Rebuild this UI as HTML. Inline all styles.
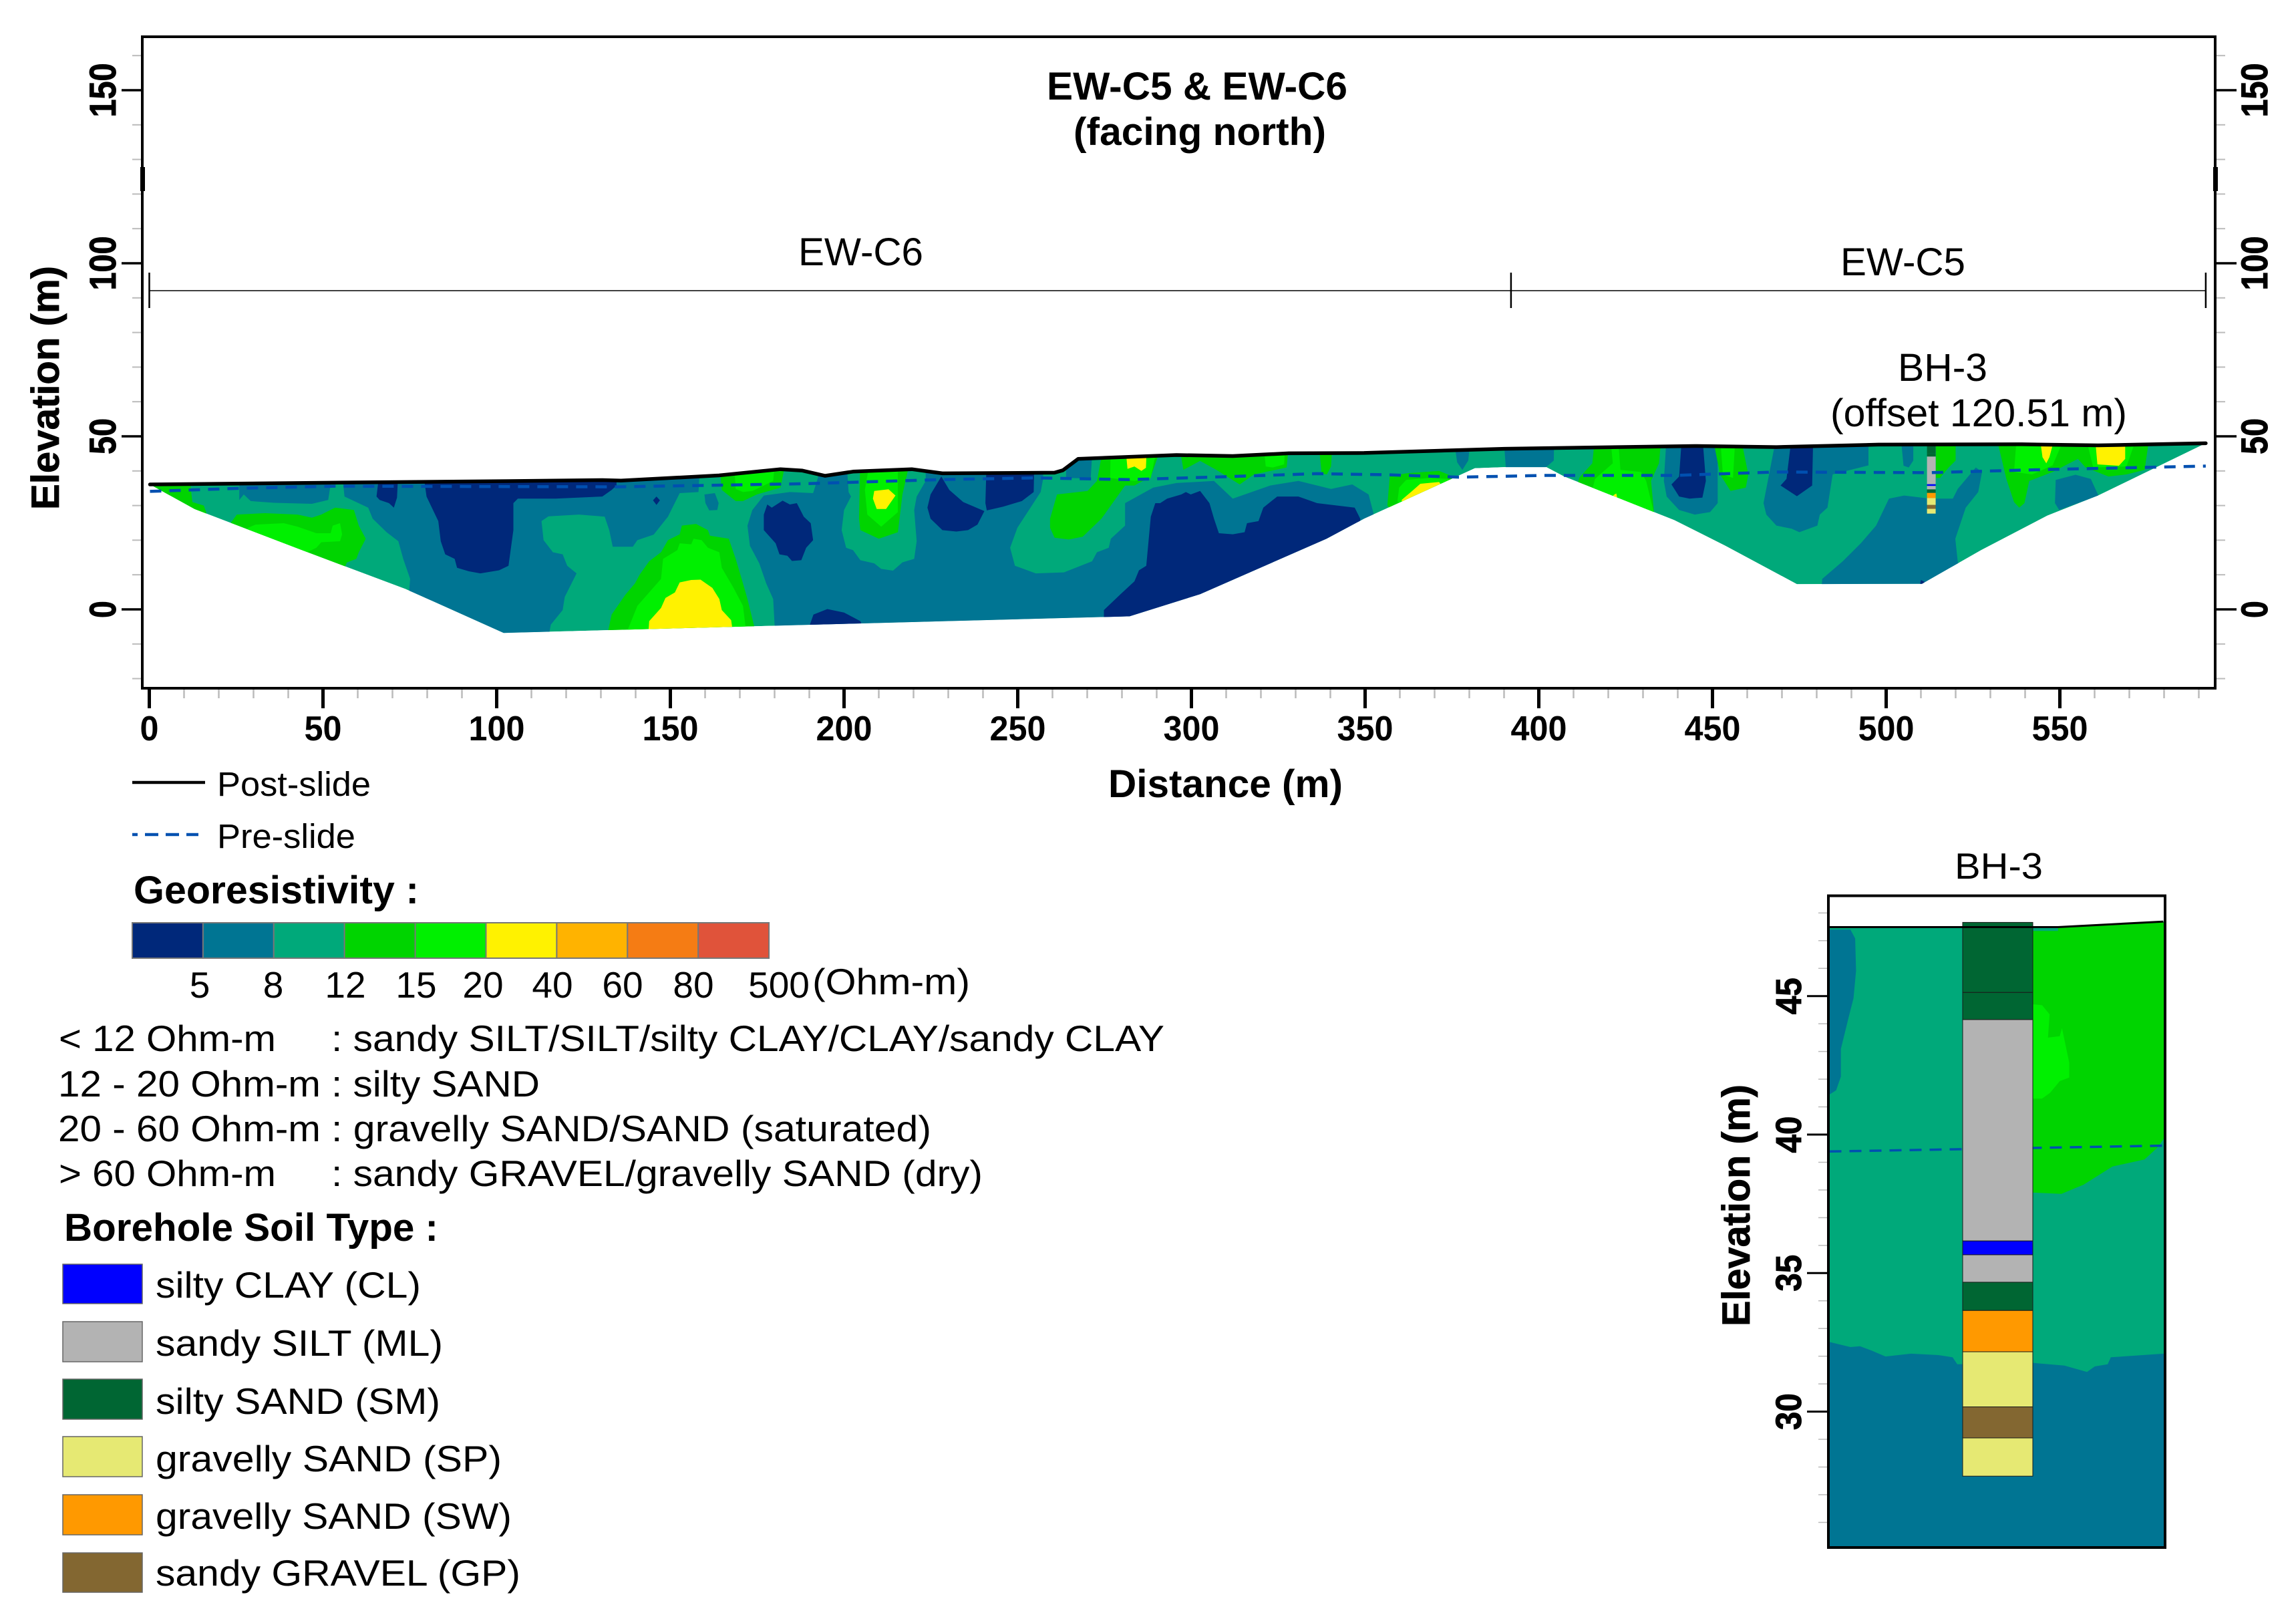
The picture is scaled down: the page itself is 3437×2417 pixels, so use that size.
<!DOCTYPE html>
<html lang="en">
<head>
<meta charset="utf-8">
<title>EW-C5 and EW-C6 georesistivity section</title>
<style>
html,body{margin:0;padding:0;background:#fff}
svg{display:block}
text{font-family:"Liberation Sans",Arial,sans-serif;fill:#000}
.b{font-weight:bold}
</style>
</head>
<body>
<svg id="figure" xmlns="http://www.w3.org/2000/svg" width="3437" height="2417" viewBox="0 0 3437 2417">
<defs>
<clipPath id="section-clip"><path id="section-clip-path"/></clipPath>
<clipPath id="panel-clip"><path id="panel-clip-path"/></clipPath>
</defs>
<rect width="3437" height="2417" fill="#fff"/>

<g id="main-section" clip-path="url(#section-clip)"></g>
<g id="main-overlay"></g>
<g id="main-axes"></g>

<text class="b" x="1792" y="149" font-size="58" text-anchor="middle" textLength="450" lengthAdjust="spacingAndGlyphs">EW-C5 &amp; EW-C6</text>
<text class="b" x="1796" y="217" font-size="58" text-anchor="middle" textLength="378" lengthAdjust="spacingAndGlyphs">(facing north)</text>
<text x="1195" y="397" font-size="58" textLength="187" lengthAdjust="spacingAndGlyphs">EW-C6</text>
<text x="2755" y="412" font-size="58" textLength="187" lengthAdjust="spacingAndGlyphs">EW-C5</text>
<text x="2841" y="570" font-size="58" textLength="134" lengthAdjust="spacingAndGlyphs">BH-3</text>
<text x="2740" y="638" font-size="58" textLength="444" lengthAdjust="spacingAndGlyphs">(offset 120.51 m)</text>
<text class="b" x="1659" y="1193" font-size="58" textLength="351" lengthAdjust="spacingAndGlyphs">Distance (m)</text>
<text class="b" transform="translate(88,763) rotate(-90)" font-size="58" stroke="#000" stroke-width="0.8" textLength="365" lengthAdjust="spacingAndGlyphs">Elevation (m)</text>

<g>
<line x1="198" y1="1171" x2="307" y2="1171" stroke="#000" stroke-width="4.5"/>
<text x="325" y="1191" font-size="51" textLength="230" lengthAdjust="spacingAndGlyphs">Post-slide</text>
<line x1="198" y1="1249" x2="297" y2="1249" stroke="#0050b0" stroke-width="4.5" stroke-dasharray="8 11 20 11 20 11 20"/>
<text x="325" y="1269" font-size="51" textLength="207" lengthAdjust="spacingAndGlyphs">Pre-slide</text>
</g>

<text class="b" x="200" y="1352" font-size="58" textLength="427" lengthAdjust="spacingAndGlyphs">Georesistivity :</text>
<g id="colorbar"></g>
<g font-size="55" text-anchor="middle">
<text x="299" y="1493">5</text>
<text x="409" y="1493">8</text>
<text x="517" y="1493">12</text>
<text x="623" y="1493">15</text>
<text x="723" y="1493">20</text>
<text x="827" y="1493">40</text>
<text x="932" y="1493">60</text>
<text x="1038" y="1493">80</text>
<text x="1166" y="1493">500</text>
</g>
<text x="1216" y="1488" font-size="55" textLength="236" lengthAdjust="spacingAndGlyphs">(Ohm-m)</text>

<g font-size="55">
<text x="88" y="1573" textLength="325" lengthAdjust="spacingAndGlyphs">&lt; 12 Ohm-m</text>
<text x="496" y="1573" textLength="1247" lengthAdjust="spacingAndGlyphs">: sandy SILT/SILT/silty CLAY/CLAY/sandy CLAY</text>
<text x="87" y="1641" textLength="393" lengthAdjust="spacingAndGlyphs">12 - 20 Ohm-m</text>
<text x="496" y="1641" textLength="312" lengthAdjust="spacingAndGlyphs">: silty SAND</text>
<text x="87" y="1708" textLength="393" lengthAdjust="spacingAndGlyphs">20 - 60 Ohm-m</text>
<text x="496" y="1708" textLength="898" lengthAdjust="spacingAndGlyphs">: gravelly SAND/SAND (saturated)</text>
<text x="88" y="1775" textLength="325" lengthAdjust="spacingAndGlyphs">&gt; 60 Ohm-m</text>
<text x="496" y="1775" textLength="975" lengthAdjust="spacingAndGlyphs">: sandy GRAVEL/gravelly SAND (dry)</text>
</g>

<text class="b" x="96" y="1857" font-size="58" textLength="560" lengthAdjust="spacingAndGlyphs">Borehole Soil Type :</text>
<g font-size="55">
<rect x="94" y="1892" width="119" height="59" fill="#0000ff" stroke="#666" stroke-width="1.5"/>
<text x="233" y="1942" textLength="397" lengthAdjust="spacingAndGlyphs">silty CLAY (CL)</text>
<rect x="94" y="1978" width="119" height="60" fill="#b3b3b3" stroke="#666" stroke-width="1.5"/>
<text x="233" y="2029" textLength="430" lengthAdjust="spacingAndGlyphs">sandy SILT (ML)</text>
<rect x="94" y="2064" width="119" height="60" fill="#006633" stroke="#666" stroke-width="1.5"/>
<text x="233" y="2116" textLength="426" lengthAdjust="spacingAndGlyphs">silty SAND (SM)</text>
<rect x="94" y="2150" width="119" height="60" fill="#e6e973" stroke="#666" stroke-width="1.5"/>
<text x="233" y="2202" textLength="518" lengthAdjust="spacingAndGlyphs">gravelly SAND (SP)</text>
<rect x="94" y="2237" width="119" height="60" fill="#ff9900" stroke="#666" stroke-width="1.5"/>
<text x="233" y="2288" textLength="533" lengthAdjust="spacingAndGlyphs">gravelly SAND (SW)</text>
<rect x="94" y="2324" width="119" height="59" fill="#836731" stroke="#666" stroke-width="1.5"/>
<text x="233" y="2373" textLength="546" lengthAdjust="spacingAndGlyphs">sandy GRAVEL (GP)</text>
</g>

<text x="2926" y="1315" font-size="55" textLength="132" lengthAdjust="spacingAndGlyphs">BH-3</text>
<text class="b" transform="translate(2619,1985) rotate(-90)" font-size="58" stroke="#000" stroke-width="0.8" textLength="362" lengthAdjust="spacingAndGlyphs">Elevation (m)</text>
<g id="panel-section" clip-path="url(#panel-clip)"></g>
<g id="panel-overlay"></g>

<script>
// ---------- axis data ----------
const xMajorTicks = [0,50,100,150,200,250,300,350,400,450,500,550];
const xMinorTicks = [10,20,30,40,60,70,80,90,110,120,130,140,160,170,180,190,210,220,230,240,260,270,280,290,310,320,330,340,360,370,380,390,410,420,430,440,460,470,480,490,510,520,530,540,560,570,580,590];
const yMajorTicks = [150,100,50,0];
const yMinorTicks = [160,140,130,120,110,90,80,70,60,40,30,20,10,-10,-20];
const sectionMarks = [0,392,592];
const panelMajorTicks = [45,40,35,30];
const panelMinorTicks = [48,47,46,44,43,42,41,39,38,37,36,34,33,32,31,29,28,27,26];

// ---------- surface lines [distance m, elevation m] ----------
const postSlide = [[0.2,36.1],[63,36.7],[117,37.2],[130.4,37.35],[135.8,37.2],[164,38.7],[181.7,40.5],[188,40.1],[194.5,38.6],[202.6,39.8],[219.5,40.5],[228.3,39.3],[260.6,39.5],[263,40.2],[267.4,43.5],[295.7,44.6],[311.9,44.3],[328,45.1],[349.7,45.2],[390.2,46.4],[444.9,47.2],[468.4,46.9],[497.8,47.6],[539,47.7],[561,47.4],[592,48]];
const preSlide = [[0.2,34.1],[26.5,35],[53.5,35.6],[134.5,35.4],[188,36.3],[228,37.5],[255,38],[282,37.5],[309,38.3],[336,39.2],[356,38.9],[377,38.2],[402,38.7],[439,38.7],[468.4,39.7],[512.5,39.5],[542,40.3],[592,41.4]];
const sectionBase = [[13,29],[44,17.1],[73.7,5.9],[81.8,2.3],[102,-6.8],[207,-4],[282.2,-2],[302.5,4.4],[338.9,20.4],[349.7,26.2],[381.6,40.8],[390,41.1],[402.2,41.1],[407.3,38.4],[439,25.8],[453.7,18.4],[474.3,7.3],[510.3,7.4],[527.3,17.1],[546.4,27.1],[561,32.9]];

// ---------- borehole strata: top, bottom elevations and soil codes ----------
const strataTop = [47.66,45.13,44.15,36.16,35.66,34.67,33.65,32.16,30.17,29.05];
const strataBottom = [45.13,44.15,36.16,35.66,34.67,33.65,32.16,30.17,29.05,27.67];
const strataSoil = ["SM","SM","ML","CL","ML","SM","SW","SP","GP","SP"];
const boreholeRange = [511.75,514.25];

// ---------- resistivity zones [distance m, elevation m] ----------
const teal1 = [[25.9,40],[25.9,31.6],[27.2,33.2],[29.2,31.3],[36,30.8],[46.8,30.5],[51.5,31.6],[52.8,40]];
const teal2 = [[54.9,45],[56.2,32.6],[63,29.4],[64.3,26.2],[68.3,22.3],[71.7,19.7],[73.1,14.6],[75.1,8.8],[73.7,-8],[114.9,-8],[115.6,-4.4],[119,-0.2],[119.6,3.6],[123,10.4],[120.3,12.6],[119,15.9],[116.2,16.5],[113.5,20],[112.9,25.5],[114.9,26.9],[123.7,27.4],[131.1,26.8],[132.4,22.9],[133.4,18.1],[139.2,18.1],[140.5,20],[145.2,21.6],[149.3,26.8],[152.7,33.6],[158.1,33.9],[158.7,45]];
const teal3 = [[159.8,33.2],[162.8,33.6],[163.9,30.7],[163.5,28.7],[161.2,28.6],[160.1,30.7]];
const teal4 = [[180,-8],[180,-4.4],[179.6,3],[177.6,7.5],[175.6,13.3],[172.9,18.4],[172.2,24.2],[173.6,28.7],[176.9,32.9],[184.4,33.9],[191.1,33.6],[192.5,38.1],[192.5,45],[257.3,45],[257.3,37.7],[256.6,33.9],[249.9,23.6],[247.8,17.8],[249.2,12.6],[255.2,10.4],[263.3,10.7],[271.4,13.9],[272.8,16.5],[276.2,17.8],[276.8,20.4],[280.9,24.2],[280.9,30.7],[289,35.2],[295.7,36.5],[306.5,37.1],[311.9,32],[322.7,35.8],[330.8,37.1],[340.2,34.8],[346.3,36.1],[351,33.2],[352.4,27.8],[352.4,-8]];
const teal5 = [[264,46],[263.9,38],[271,37.8],[271.5,46]];
const teal6 = [[376,46],[376.5,42.5],[378,40.3],[379.7,43],[380,46]];
const teal7 = [[390,48],[390.5,41],[402,41],[404.3,43],[404.4,48]];
const teal8 = [[436.8,50],[436,37.1],[436.8,32.6],[440.4,28.7],[444.9,27.4],[449.3,28.1],[451.5,30.7],[451.5,50]];
const teal9 = [[468.4,50],[464.7,30.7],[465.5,27.4],[468.4,24.2],[472.8,23.3],[475,22.3],[480.2,24.2],[480.9,27.4],[483.1,29.4],[484.6,39],[494.9,41.6],[494.9,50]];
const teal10 = [[504.2,50],[505,41.5],[506.5,41],[507.8,43],[507.8,50]];
const teal11 = [[480.9,0],[481.6,8.8],[487.5,13.9],[492.7,19.1],[497.1,24.2],[500.8,32],[505.2,32.9],[512.6,32],[519.2,32],[520.6,34.8],[525.8,41],[527.6,39.7],[526.5,33.9],[522.9,29.4],[521.4,24.9],[519.9,20.4],[520.6,13.9],[525,0]];
const teal12 = [[548.8,37.4],[554.5,38.9],[558.9,37.7],[561.1,32.9],[549.8,28.7],[548.6,30.7]];
const teal13 = [[569,32],[569.2,35],[570.4,37],[571.8,36],[572,32]];
const emerald1 = [[200.6,45],[201.3,33.9],[202,32.6],[200,28.7],[199.3,22.9],[200.6,17.8],[202.6,17.1],[204.7,14.2],[208.7,13.3],[210.7,11.7],[214.1,11.2],[216.8,13.6],[220.2,14.6],[220.9,19.7],[220.2,28.7],[220.9,32.6],[223.5,37.1],[223.5,45]];
const green1 = [[-1,37],[11.7,37],[12.4,31],[15.7,30],[16.4,28],[16,20],[-1,20]];
const green2 = [[23.8,25.5],[25.2,27.4],[33.3,27.8],[42.7,27.4],[46.8,26.5],[49.5,27.4],[53.5,29.4],[58.9,28.7],[60.3,24.2],[62.3,20.4],[60.3,16.5],[59.6,14.6],[56.9,13.6],[56.2,12],[40,5],[20,20]];
const green3 = [[131.7,-8],[133.1,-1.5],[137.1,4.3],[139.8,7.5],[141.2,10.1],[143.9,13.9],[147.3,16.5],[149.3,20],[152.7,21.7],[153.3,24.2],[157.4,24.7],[160.8,22.9],[161.4,21.3],[166.8,20.4],[168.8,14.6],[170.9,7.5],[172.2,3],[174.9,-8]];
const green4 = [[163.9,45],[164.8,34.5],[168.8,31.3],[170.9,31.3],[174.9,33.2],[181.7,35.2],[183.7,45]];
const green5 = [[204.7,45],[204.3,26.2],[204.7,22.9],[210,20.4],[215.5,22.3],[216.8,33.2],[219.5,45]];
const green6 = [[259.3,26.2],[261.3,33.2],[270.1,34.2],[272.8,37.1],[274.8,48],[291.7,48],[288.3,38.4],[283.6,35.8],[280.9,35.8],[274.1,26.2],[268.7,21],[264.7,20.2],[260.6,20.7],[259.3,23.6]];
const green7 = [[296.4,48],[297.7,40.3],[302.5,42.9],[307.2,40.3],[313.9,36.1],[318,39],[327.4,41],[328.1,48]];
const green8 = [[336.6,48],[337.5,39.3],[339,39],[340.2,41.3],[340.6,48]];
const green9 = [[356.4,30],[357.1,38.4],[361.8,39.3],[371.3,40],[375.3,38.4],[380,30],[365,20]];
const green10 = [[416.2,50],[415.4,42.2],[411.7,38.1],[410,32],[433.1,25],[433.1,28.7],[432.3,37.1],[434.6,42.2],[435.3,50]];
const green11 = [[450,50],[452.2,39],[455.2,34.2],[459.6,35.2],[460.3,39],[458.1,50]];
const green12 = [[514.3,50],[514.3,38],[515.5,38],[518,41],[520,43],[520,50]];
const green13 = [[531.7,50],[534.6,37.7],[536.8,31],[538.3,29.4],[539.8,30.7],[541.2,37.1],[547.9,39.7],[555.2,43.5],[557.4,41],[564,38.4],[569.2,39],[574.4,40.3],[575.8,50]];
const bright2 = [[28.5,23.6],[30.6,24.5],[38.7,24.9],[42.7,23.9],[48.1,22],[52.2,22],[52.8,24.2],[54.9,24.9],[55.5,21.7],[54.9,19.7],[49.5,19.4],[48.1,17.8],[45.4,16.5],[40,10],[25,20]];
const bright3 = [[136.9,-8],[140.5,1],[143.9,4.9],[147.3,8.8],[147.9,14.6],[152,17.1],[152.7,19.1],[156,18.8],[156.7,20.4],[159,20],[160.8,17.8],[164.1,16.5],[164.8,12],[168.2,6.2],[170.9,1],[172,-8]];
const bright4 = [[168.2,45],[168.8,34.8],[170.9,33.9],[173.6,34.2],[176.9,35.8],[179.6,37.1],[180.3,45]];
const bright5 = [[207.8,45],[206,34.5],[206.7,27.4],[210.7,23.9],[215.5,28.1],[215.5,45]];
const bright6 = [[276.8,48],[276.6,38],[283.6,37.1],[288.3,38],[290.3,48]];
const bright7 = [[320.7,48],[321.4,41.3],[323.4,41],[326.7,41.9],[327,48]];
const bright9 = [[359.3,31.3],[359.8,35.2],[361.8,37.4],[368.6,38],[374,37.7],[380,30],[365,20]];
const bright10 = [[420.6,50],[421.3,42.2],[416.2,37.7],[415,33],[433.1,28.1],[430.9,37.1],[429.4,39.7],[423.5,40.3],[422.8,50]];
const bright11 = [[452.2,50],[453,39],[455.9,38],[456.6,50]];
const bright13a = [[537.6,50],[536.8,39.7],[542,39],[547.9,41.6],[551.5,50]];
const bright13b = [[557.4,50],[559.6,41],[569.2,41.3],[572.2,50]];
const yellow3 = [[143.6,-8],[143.9,-3.4],[147.3,.4],[148.6,3.3],[151.3,4.9],[152.7,7.8],[156,8.5],[158.7,8.6],[162.1,6.2],[164.1,3],[164.8,-.2],[167.5,-3.1],[168.2,-8]];
const yellow5 = [[208.7,34.2],[212.8,34.7],[214.8,32.9],[212.1,29],[209.4,29],[208.3,32]];
const yellow6 = [[280.9,48],[281.6,40.6],[283.6,41.3],[285.6,40],[286.9,40.9],[287.2,48]];
const yellow9 = [[360.5,31.6],[363.2,33.9],[365.9,36.3],[371.3,36.8],[372,35.8],[372,28],[362,26]];
const yellow10 = [[421,30],[421.5,33],[422.3,33.5],[423,30]];
const yellow13a = [[544.2,50],[545,44],[546.1,42.2],[547,44],[548.6,50]];
const yellow13b = [[560.1,50],[560.8,41.9],[567,41.5],[568.8,43.5],[568.8,50]];
const navy1 = [[66.3,40],[71.7,40],[71.3,32.3],[70.4,29.4],[69,30.7],[66.3,31.6],[65.4,32.6]];
const navy2 = [[78.5,42],[79.8,32.6],[83.2,25.5],[83.9,19.7],[85.2,15.9],[87.9,14.6],[88.6,12],[92,11],[95.3,10.4],[100.7,11.3],[103.4,12.6],[104.8,22.9],[104.8,30.7],[106.1,32],[116.9,32],[130.4,32.6],[133.1,34.5],[134.5,35.8],[134.5,42]];
const navy3 = [[145,31.5],[146,32.6],[147,31.5],[146,30.2]];
const navy4 = [[177.9,30.3],[179.2,29.4],[182.3,31.4],[184.4,30.3],[186.4,30.7],[188.4,26.8],[190.4,24.9],[191.1,20],[189.1,17.8],[187.7,14.2],[185,14],[183.7,15.5],[181.4,15.9],[180.3,19.1],[176.9,22.9],[176.9,27.4]];
const navy5 = [[188.9,-8],[191.2,-1.5],[195.2,.1],[200,-.9],[204.7,-3.4],[206.7,-8]];
const navy6 = [[228,38.4],[230.3,34.5],[234.3,31],[240.4,28.4],[238.4,24.5],[235.7,22.9],[232.3,22.5],[228.3,22.9],[224.9,26.2],[224,29.4],[224.9,33.2]];
const navy7 = [[241.1,45],[254.8,45],[254.6,33.9],[251.2,31.3],[245.8,29.7],[241.1,28.6],[240.7,30.7]];
const navy8 = [[274.8,-8],[274.8,-.2],[279.5,4.3],[283.6,8.1],[284.9,11.3],[287,12.6],[288.3,26.8],[289.6,30.7],[291,30.7],[293,32],[297.1,33.2],[298.4,33.9],[299.8,33.2],[302.5,34.2],[305.2,30.7],[306.5,26.2],[307.9,22],[311.9,21.7],[315.3,22.3],[316,24.9],[319.3,25.5],[320.7,29.4],[324.7,32.6],[330.8,32.6],[336.2,30.7],[347,29.4],[348.6,26.2],[348.6,-8]];
const navy9 = [[441.2,50],[440.4,38.4],[438.2,36.1],[440.4,32.6],[443.4,32],[447.1,32.3],[448.1,37.1],[447.1,50]];
const navy10 = [[472.8,50],[471.3,37.7],[469.6,35.8],[474.3,32.7],[478.7,35.8],[479,50]];
const navy11 = [[509.5,6],[510,8.5],[511,8],[511,6]];

// ---------- close-up panel zones ----------
const panelPost = [[507,47.49],[515.15,47.49],[518.9,47.69]];
const panelPre = [[507,39.39],[518.9,39.6]];
const panelTeal1 = [[506.9,47.4],[507.75,47.4],[507.92,47.08],[507.95,45.91],[507.86,44.92],[507.69,44.25],[507.41,43.09],[507.41,42.09],[507.24,41.6],[506.9,41.38]];
const panelGreen = [[513,47.35],[515.15,47.35],[515.15,47.49],[518.9,47.66],[519.1,47.66],[519.1,40.1],[518.68,39.52],[518.23,39.1],[517.09,38.85],[516.06,38.19],[515.27,37.86],[514.24,37.91],[513,37.9]];
const panelBright = [[513,44.83],[514.58,44.67],[514.85,44.34],[514.79,43.5],[515.21,43.55],[515.29,43.84],[515.55,42.59],[515.55,42.06],[515.21,41.93],[514.87,41.51],[514.58,41.3],[513,41.3]];
const panelTeal2 = [[506.9,32.54],[507.75,32.33],[508.09,32.36],[508.49,32.21],[509,31.99],[509.91,32.09],[510.88,32.04],[511.39,31.96],[511.56,31.71],[514.24,31.76],[515.38,31.66],[516.18,31.43],[516.46,31.63],[516.92,31.71],[517.03,31.96],[518.91,32.09],[519.1,32.09],[519.1,24],[506.9,24]];

// ---------- colours ----------
const NAVY="#00287a",TEAL="#007593",EMERALD="#00a97a",GREEN="#00d400",BRIGHT="#00f000",YELLOW="#fff200";
const BAR_COLORS=[NAVY,TEAL,EMERALD,GREEN,BRIGHT,YELLOW,"#ffb300","#f57c14","#e0533a"];
const SOIL_COLORS={CL:"#0000ff",ML:"#b3b3b3",SM:"#006633",SP:"#e6e973",SW:"#ff9900",GP:"#836731"};

// ---------- axis functions ----------
const xMain = d => 223.5 + 5.2 * d;
const yMain = e => 912 - 5.18 * e;
const xPanel = d => 2990.5 + (d - 513) * 42;
const yPanel = e => 2112.6 - (e - 30) * 41.46;
const NS = "http://www.w3.org/2000/svg";
const FRAME = {l:213,r:3316,t:55,b:1030};
const PANEL = {l:2737,r:3241,t:1340.6,b:2316};

function make(tag, parent) {
  const el = document.createElementNS(NS, tag);
  parent.appendChild(el);
  return el;
}
function toPath(points, xf, yf, close) {
  return points.map((p, i) => (i ? "L" : "M") + xf(p[0]).toFixed(1) + " " + yf(p[1]).toFixed(1)).join("") + (close ? "Z" : "");
}
function drawZone(parent, points, color, xf, yf) {
  const el = make("path", parent);
  el.setAttribute("d", toPath(points, xf, yf, true));
  el.setAttribute("fill", color);
  
  
  return el;
}
function tickLine(parent, x1, y1, x2, y2, color, width) {
  const el = make("line", parent);
  el.setAttribute("x1", x1); el.setAttribute("y1", y1);
  el.setAttribute("x2", x2); el.setAttribute("y2", y2);
  el.setAttribute("stroke", color); el.setAttribute("stroke-width", width);
  
  
  return el;
}
function rotatedLabel(parent, x, y, str, size, unit) {
  const el = make("text", parent);
  el.setAttribute("transform", "translate(" + x + "," + y + ") rotate(-90)");
  el.setAttribute("class", "b");
  el.setAttribute("font-size", size);
  el.setAttribute("text-anchor", "middle");
  el.setAttribute("stroke", "#000");
  el.setAttribute("stroke-width", "1");
  el.setAttribute("textLength", str.length === 1 ? unit * 0.95 : unit * str.length);
  el.setAttribute("lengthAdjust", "spacingAndGlyphs");
  
  
  el.textContent = str;
  return el;
}

// ---------- main section ----------
const sectionOutline = postSlide.concat(sectionBase.slice().reverse());
document.getElementById("section-clip-path").setAttribute("d", toPath(sectionOutline, xMain, yMain, true));
const sec = document.getElementById("main-section");
const baseFill = make("path", sec);
baseFill.setAttribute("d", toPath(sectionOutline, xMain, yMain, true));
baseFill.setAttribute("fill", EMERALD);


[teal1,teal2,teal3,teal4,teal5,teal6,teal7,teal8,teal9,teal10,teal11,teal12,teal13].forEach(z => drawZone(sec, z, TEAL, xMain, yMain));
drawZone(sec, emerald1, EMERALD, xMain, yMain);
[green1,green2,green3,green4,green5,green6,green7,green8,green9,green10,green11,green12,green13].forEach(z => drawZone(sec, z, GREEN, xMain, yMain));
[bright2,bright3,bright4,bright5,bright6,bright7,bright9,bright10,bright11,bright13a,bright13b].forEach(z => drawZone(sec, z, BRIGHT, xMain, yMain));
[yellow3,yellow5,yellow6,yellow9,yellow10,yellow13a,yellow13b].forEach(z => drawZone(sec, z, YELLOW, xMain, yMain));
[navy1,navy2,navy3,navy4,navy5,navy6,navy7,navy8,navy9,navy10,navy11].forEach(z => drawZone(sec, z, NAVY, xMain, yMain));

// ---------- main overlay ----------
const over = document.getElementById("main-overlay");
strataTop.forEach((top, i) => {
  const r = make("rect", over);
  r.setAttribute("x", xMain(boreholeRange[0]));
  r.setAttribute("width", xMain(boreholeRange[1]) - xMain(boreholeRange[0]));
  r.setAttribute("y", yMain(top));
  r.setAttribute("height", yMain(strataBottom[i]) - yMain(top));
  r.setAttribute("fill", SOIL_COLORS[strataSoil[i]]);
  
  
});
const preLine = make("path", over);
preLine.setAttribute("d", toPath(preSlide, xMain, yMain, false));
preLine.setAttribute("fill", "none");
preLine.setAttribute("stroke", "#0050b0");
preLine.setAttribute("stroke-width", "4.5");
preLine.setAttribute("stroke-dasharray", "17 12");


const postLine = make("path", over);
postLine.setAttribute("d", toPath(postSlide, xMain, yMain, false));
postLine.setAttribute("fill", "none");
postLine.setAttribute("stroke", "#000");
postLine.setAttribute("stroke-width", "5.5");
postLine.setAttribute("stroke-linecap", "round");
postLine.setAttribute("stroke-linejoin", "round");


const barLine = make("line", over);
barLine.setAttribute("x1", xMain(sectionMarks[0]));
barLine.setAttribute("x2", xMain(sectionMarks[2]));
barLine.setAttribute("y1", 435);
barLine.setAttribute("y2", 435);
barLine.setAttribute("stroke", "#000");
barLine.setAttribute("stroke-width", "1.5");


sectionMarks.forEach(d => {
  const t = tickLine(over, xMain(d), 408, xMain(d), 461, "#000", 2.5);
  
});

// ---------- main axes ----------
const ax = document.getElementById("main-axes");
const frame = make("rect", ax);
frame.setAttribute("x", FRAME.l);
frame.setAttribute("y", FRAME.t);
frame.setAttribute("width", FRAME.r - FRAME.l);
frame.setAttribute("height", FRAME.b - FRAME.t);
frame.setAttribute("fill", "none");
frame.setAttribute("stroke", "#000");
frame.setAttribute("stroke-width", "4");


const leftBreak = make("rect", ax);
leftBreak.setAttribute("x", FRAME.l - 3);
leftBreak.setAttribute("y", 250);
leftBreak.setAttribute("width", 7);
leftBreak.setAttribute("height", 36);


const rightBreak = make("rect", ax);
rightBreak.setAttribute("x", FRAME.r - 3);
rightBreak.setAttribute("y", 250);
rightBreak.setAttribute("width", 7);
rightBreak.setAttribute("height", 36);


xMinorTicks.forEach(d => tickLine(ax, xMain(d), FRAME.b + 2, xMain(d), 1045, "#bbb", 2.5));
yMinorTicks.forEach(e => {
  tickLine(ax, FRAME.l - 2, yMain(e), 198, yMain(e), "#bbb", 2);
  tickLine(ax, FRAME.r + 2, yMain(e), 3331, yMain(e), "#bbb", 2);
});
xMajorTicks.forEach(d => {
  tickLine(ax, xMain(d), FRAME.b, xMain(d), 1060, "#000", 5);
  const lab = make("text", ax);
  lab.setAttribute("x", xMain(d));
  lab.setAttribute("y", 1108);
  lab.setAttribute("class", "b");
  lab.setAttribute("font-size", "52");
  lab.setAttribute("text-anchor", "middle");
  
  
  lab.setAttribute("textLength", String(d).length * 28);
  lab.setAttribute("lengthAdjust", "spacingAndGlyphs");
  lab.textContent = String(d);
});
yMajorTicks.forEach(e => {
  tickLine(ax, FRAME.l, yMain(e), 182, yMain(e), "#000", 3.5);
  tickLine(ax, FRAME.r, yMain(e), 3348, yMain(e), "#000", 3.5);
  rotatedLabel(ax, 173, yMain(e), String(e), 56, 27);
  rotatedLabel(ax, 3394, yMain(e), String(e), 56, 27);
});

// ---------- colour bar ----------
const cb = document.getElementById("colorbar");
BAR_COLORS.forEach((c, i) => {
  const r = make("rect", cb);
  r.setAttribute("x", 198 + i * 105.9);
  r.setAttribute("y", 1381);
  r.setAttribute("width", 105.9);
  r.setAttribute("height", 53);
  r.setAttribute("fill", c);
  r.setAttribute("stroke", "#777");
  r.setAttribute("stroke-width", "2");
  
  
});

// ---------- borehole close-up ----------
const panelRect = [[507,48.6],[519,48.6],[519,25.1],[507,25.1]];
const panelBody = panelPost.concat([[519,47.69],[519,25],[507,25]]);
document.getElementById("panel-clip-path").setAttribute("d", toPath(panelRect, xPanel, yPanel, true));
const ps = document.getElementById("panel-section");
const panelBase = make("path", ps);
panelBase.setAttribute("d", toPath(panelBody, xPanel, yPanel, true));
panelBase.setAttribute("fill", EMERALD);


drawZone(ps, panelTeal1, TEAL, xPanel, yPanel);
drawZone(ps, panelGreen, GREEN, xPanel, yPanel);
drawZone(ps, panelBright, BRIGHT, xPanel, yPanel);
drawZone(ps, panelTeal2, TEAL, xPanel, yPanel);
const po = document.getElementById("panel-overlay");
const panelPreLine = make("path", po);
panelPreLine.setAttribute("d", toPath(panelPre, xPanel, yPanel, false));
panelPreLine.setAttribute("fill", "none");
panelPreLine.setAttribute("stroke", "#0050b0");
panelPreLine.setAttribute("stroke-width", "3.5");
panelPreLine.setAttribute("stroke-dasharray", "18 12");


strataTop.forEach((top, i) => {
  const r = make("rect", po);
  r.setAttribute("x", xPanel(boreholeRange[0]));
  r.setAttribute("width", xPanel(boreholeRange[1]) - xPanel(boreholeRange[0]));
  r.setAttribute("y", yPanel(top));
  r.setAttribute("height", yPanel(strataBottom[i]) - yPanel(top));
  r.setAttribute("fill", SOIL_COLORS[strataSoil[i]]);
  r.setAttribute("stroke", "#1a1a1a");
  r.setAttribute("stroke-width", "1");
  
  
});
const panelPostLine = make("path", po);
panelPostLine.setAttribute("d", toPath(panelPost, xPanel, yPanel, false));
panelPostLine.setAttribute("fill", "none");
panelPostLine.setAttribute("stroke", "#000");
panelPostLine.setAttribute("stroke-width", "3");


const pframe = make("rect", po);
pframe.setAttribute("x", PANEL.l);
pframe.setAttribute("y", PANEL.t);
pframe.setAttribute("width", PANEL.r - PANEL.l);
pframe.setAttribute("height", PANEL.b - PANEL.t);
pframe.setAttribute("fill", "none");
pframe.setAttribute("stroke", "#000");
pframe.setAttribute("stroke-width", "4");


panelMinorTicks.forEach(e => tickLine(po, PANEL.l - 2, yPanel(e), 2722, yPanel(e), "#bbb", 1.5));
panelMajorTicks.forEach(e => {
  tickLine(po, PANEL.l, yPanel(e), 2705, yPanel(e), "#000", 3);
  rotatedLabel(po, 2696, yPanel(e), String(e), 54, 27.5);
});
</script>
</svg>
</body>
</html>
